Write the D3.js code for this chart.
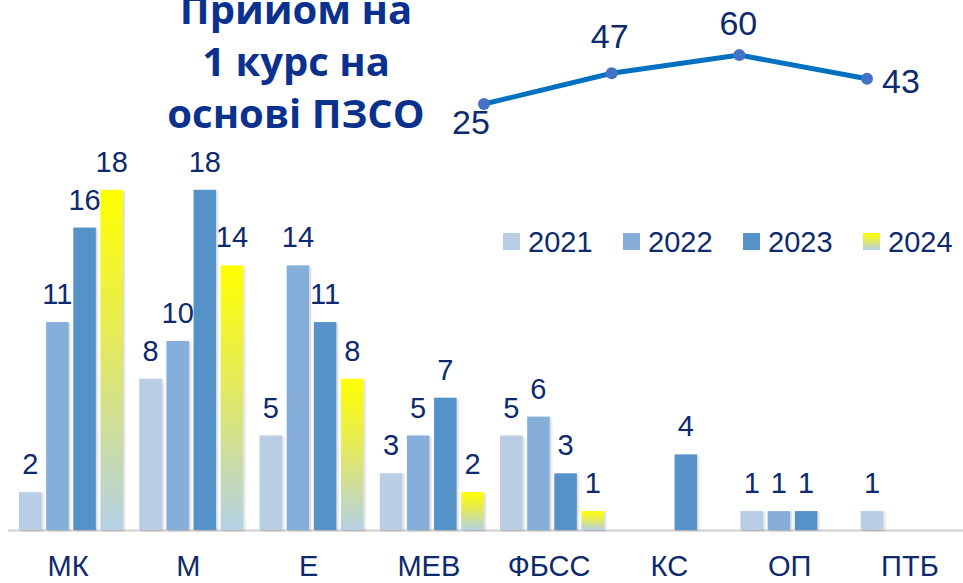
<!DOCTYPE html>
<html>
<head>
<meta charset="utf-8">
<script src="https://cdn.jsdelivr.net/npm/d3@7"></script>
<style>
body{margin:0;background:#fff;}
svg{display:block;font-family:"Liberation Sans",Arial,sans-serif;}
.lbl{fill:#0e2a6e;font-size:29px;}
.tot{fill:#0e2a6e;font-size:34px;}
.title{fill:#0b318f;font-family:"Open Sans",sans-serif;font-weight:bold;font-size:40px;}
</style>
</head>
<body>
<svg id="chart"></svg>
<script>
// categories and series
var categories = ["МК","М","Е","МЕВ","ФБСС","КС","ОП","ПТБ"];
var years = ["2021","2022","2023","2024"];
var v2021 = [2,8,5,3,5,null,1,1];
var v2022 = [11,10,14,5,6,null,1,null];
var v2023 = [16,18,11,7,3,4,1,null];
var v2024 = [18,14,8,2,1,null,null,null];
var totals = [25,47,60,43];
var titleLines = ["Прийом на","1 курс на","основі ПЗСО"];

var colors = {"2021":"#b9cde5","2022":"#86aedb","2023":"#5592c8","2024":"url(#yellowGrad)"};

var screen = {width:963,height:583};
var svg = d3.select("#chart").attr("width",screen.width).attr("height",screen.height);

var defs = svg.append("defs");
var grad = defs.append("linearGradient").attr("id","yellowGrad")
    .attr("x1",0).attr("y1",0).attr("x2",0).attr("y2",1);
grad.append("stop").attr("offset","0%").attr("stop-color","#ffff00");
grad.append("stop").attr("offset","45%").attr("stop-color","#e4ea5c");
grad.append("stop").attr("offset","100%").attr("stop-color","#b4d0e6");

var shadow = defs.append("filter").attr("id","shadow").attr("x","-20%").attr("y","-5%").attr("width","150%").attr("height","115%");
shadow.append("feDropShadow").attr("dx",1.5).attr("dy",1).attr("stdDeviation",1.2)
    .attr("flood-color","#000").attr("flood-opacity",0.18);

// ---- bar chart ----
var baseY = 530;
var xScale = d3.scaleBand().domain(categories).range([9,971]).paddingInner(0).paddingOuter(0);
var xInner = d3.scaleBand().domain(years).range([10,114]).paddingInner(0.17);
var yScale = d3.scaleLinear().domain([0,20]).range([baseY,baseY-378]);

var rows = categories.map(function(c,i){
    return {cat:c, vals:[v2021[i],v2022[i],v2023[i],v2024[i]]};
});

svg.append("line")
    .attr("x1",8).attr("x2",963)
    .attr("y1",baseY+0.5).attr("y2",baseY+0.5)
    .attr("stroke","#d0d0d0").attr("stroke-width",2);

var groups = svg.selectAll("g.cat")
    .data(rows)
    .enter()
    .append("g")
    .attr("class","cat")
    .attr("transform",function(d){ return "translate("+xScale(d.cat)+",0)"; });

var bars = groups.selectAll("g.bar")
    .data(function(d){
        return d.vals.map(function(v,j){ return {year:years[j], v:v}; })
            .filter(function(e){ return e.v!=null; });
    })
    .enter()
    .append("g").attr("class","bar");

bars.append("rect")
    .attr("x",function(d){ return xInner(d.year); })
    .attr("y",function(d){ return yScale(d.v); })
    .attr("width",xInner.bandwidth())
    .attr("height",function(d){ return baseY-yScale(d.v); })
    .attr("fill",function(d){ return colors[d.year]; })
    .attr("filter","url(#shadow)");

bars.append("text")
    .attr("class","lbl")
    .attr("text-anchor","middle")
    .attr("x",function(d){ return xInner(d.year)+xInner.bandwidth()/2; })
    .attr("y",function(d){ return yScale(d.v)-18; })
    .text(function(d){ return d.v; });

groups.append("text")
    .attr("class","lbl")
    .attr("text-anchor","middle")
    .attr("x",xScale.bandwidth()/2-1)
    .attr("y",576)
    .text(function(d){ return d.cat; });

// ---- legend ----
var legend = svg.append("g").attr("transform","translate(503,233)");
var entries = legend.selectAll("g")
    .data(years)
    .enter()
    .append("g")
    .attr("transform",function(d,i){ return "translate("+(i*120)+",0)"; });
entries.append("rect")
    .attr("width",17).attr("height",17)
    .attr("fill",function(d){ return colors[d]; });
entries.append("text")
    .attr("class","lbl")
    .attr("x",25).attr("y",19)
    .text(function(d){ return d; });

// ---- line of totals ----
var lx = d3.scalePoint().domain(years).range([484,867]);
var ly = d3.scaleLinear().domain([0,60]).range([139,55]);

var line = d3.line()
    .x(function(d,i){ return lx(years[i]); })
    .y(function(d){ return ly(d); });

svg.append("path")
    .datum(totals)
    .attr("d",line)
    .attr("fill","none")
    .attr("stroke","#0070c0")
    .attr("stroke-width",5);

svg.selectAll("circle.pt")
    .data(totals)
    .enter()
    .append("circle")
    .attr("class","pt")
    .attr("cx",function(d,i){ return lx(years[i]); })
    .attr("cy",function(d){ return ly(d); })
    .attr("r",6)
    .attr("fill","#4472c4");

var lblPos = [
    {dx:-13,dy:30,anchor:"middle"},
    {dx:-2,dy:-25,anchor:"middle"},
    {dx:-1,dy:-20,anchor:"middle"},
    {dx:15,dy:14,anchor:"start"}
];
svg.selectAll("text.tot")
    .data(totals)
    .enter()
    .append("text")
    .attr("class","tot")
    .attr("text-anchor",function(d,i){ return lblPos[i].anchor; })
    .attr("x",function(d,i){ return lx(years[i])+lblPos[i].dx; })
    .attr("y",function(d,i){ return ly(d)+lblPos[i].dy; })
    .text(function(d){ return d; });

// ---- title ----
svg.append("g").selectAll("text")
    .data(titleLines)
    .enter()
    .append("text")
    .attr("class","title")
    .attr("text-anchor","middle")
    .attr("x",296)
    .attr("y",function(d,i){ return 24+i*52; })
    .text(function(d){ return d; });
</script>
</body>
</html>
